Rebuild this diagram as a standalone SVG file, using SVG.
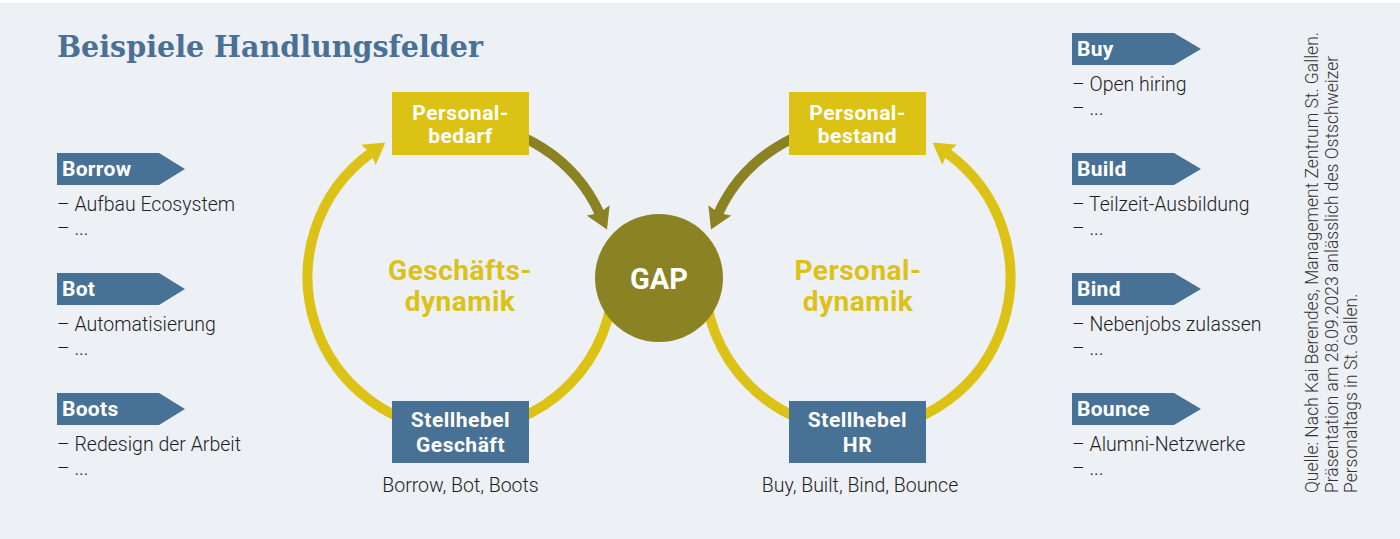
<svg xmlns="http://www.w3.org/2000/svg" width="1400" height="539" viewBox="0 0 1400 539">
  <style>
    .title { font-family: "DejaVu Serif", "Liberation Serif", serif; font-weight: bold; font-size: 30px; fill: #4A7095; }
    .box-y { fill: #DBC215; }
    .box-b { fill: #487196; }
    .boxtxt { font-family: Roboto, "Liberation Sans", sans-serif; font-weight: bold; font-size: 21px; fill: #FFFFFF; text-anchor: middle; letter-spacing: 0.5px; }
    .dyn { font-family: Roboto, "Liberation Sans", sans-serif; font-weight: bold; font-size: 28px; fill: #DBC215; text-anchor: middle; letter-spacing: 0.5px; }
    .gap { font-family: Roboto, "Liberation Sans", sans-serif; font-weight: bold; font-size: 29px; fill: #FFFFFF; text-anchor: middle; }
    .tag { fill: #487196; }
    .tagtxt { font-family: Roboto, "Liberation Sans", sans-serif; font-weight: bold; font-size: 21px; fill: #FFFFFF; letter-spacing: 0.3px; }
    .body { font-family: Roboto, "Liberation Sans", sans-serif; font-weight: 300; font-size: 19.5px; fill: #1E1E1E; }
    .mid { text-anchor: middle; }
    .src { font-family: Roboto, "Liberation Sans", sans-serif; font-weight: 300; font-size: 17.5px; fill: #333333; }
    .arc-y { fill: none; stroke: #DBC215; stroke-width: 10; }
    .arc-o { fill: none; stroke: #8B8323; stroke-width: 10; }
  </style>
  <defs>
    <marker id="ah-y" viewBox="0 0 21 25" refX="3" refY="12.5" markerWidth="21" markerHeight="25" markerUnits="userSpaceOnUse" orient="auto">
      <path d="M0,0 L21,12.5 L0,25 L3,12.5 z" fill="#DBC215"/>
    </marker>
    <marker id="ah-o" viewBox="0 0 21 25" refX="3" refY="12.5" markerWidth="21" markerHeight="25" markerUnits="userSpaceOnUse" orient="auto">
      <path d="M0,0 L21,12.5 L0,25 L3,12.5 z" fill="#8B8323"/>
    </marker>
  </defs>

  <rect x="0" y="0" width="1400" height="539" fill="#FFFFFF"/>
  <rect x="0" y="3" width="1400" height="536" fill="#EDF0F5"/>

  <text class="title" x="57" y="57" textLength="426" lengthAdjust="spacingAndGlyphs">Beispiele Handlungsfelder</text>

  <g id="connectors">
    <path class="arc-y" d="M 613.5 277 A 153 153 0 0 1 460.5 430"/>
    <path class="arc-y" d="M 460.5 430 A 153 153 0 0 1 370.8 153.1" marker-end="url(#ah-y)"/>
    <path class="arc-o" d="M 460.5 124 A 153 153 0 0 1 599.5 213.1" marker-end="url(#ah-o)"/>
    <path class="arc-y" d="M 704.5 277 A 153 153 0 0 0 857.5 430"/>
    <path class="arc-y" d="M 857.5 430 A 153 153 0 0 0 947.2 153.1" marker-end="url(#ah-y)"/>
    <path class="arc-o" d="M 857.5 124 A 153 153 0 0 0 718.5 213.1" marker-end="url(#ah-o)"/>
  </g>

  <g id="gap">
    <circle cx="659" cy="278" r="64" fill="#8B8323"/>
    <text class="gap" x="659" y="289">GAP</text>
  </g>

  <g id="personalbedarf">
    <rect class="box-y" x="392" y="92" width="137" height="63"/>
    <text class="boxtxt" x="460.5" y="120">Personal-</text>
    <text class="boxtxt" x="460.5" y="143">bedarf</text>
  </g>
  <g id="personalbestand">
    <rect class="box-y" x="789" y="92" width="137" height="63"/>
    <text class="boxtxt" x="857.5" y="120">Personal-</text>
    <text class="boxtxt" x="857.5" y="143">bestand</text>
  </g>
  <g id="stellhebel-geschaeft">
    <rect class="box-b" x="392" y="401" width="137" height="62"/>
    <text class="boxtxt" x="460.5" y="427">Stellhebel</text>
    <text class="boxtxt" x="460.5" y="452">Geschäft</text>
    <text class="body mid" x="460.5" y="492">Borrow, Bot, Boots</text>
  </g>
  <g id="stellhebel-hr">
    <rect class="box-b" x="789" y="401" width="137" height="62"/>
    <text class="boxtxt" x="857.5" y="427">Stellhebel</text>
    <text class="boxtxt" x="857.5" y="452">HR</text>
    <text class="body mid" x="860" y="492">Buy, Built, Bind, Bounce</text>
  </g>

  <g id="geschaeftsdynamik">
    <text class="dyn" x="460" y="280">Geschäfts-</text>
    <text class="dyn" x="460" y="311">dynamik</text>
  </g>
  <g id="personaldynamik">
    <text class="dyn" x="858" y="280">Personal-</text>
    <text class="dyn" x="858" y="311">dynamik</text>
  </g>

  <g id="borrow">
    <polygon class="tag" points="57,153 159,153 185,169 159,185 57,185"/>
    <text class="tagtxt" x="62" y="176">Borrow</text>
    <text class="body" x="57" y="211">– Aufbau Ecosystem</text>
    <text class="body" x="57" y="235">– ...</text>
  </g>
  <g id="bot">
    <polygon class="tag" points="57,273 159,273 185,289 159,305 57,305"/>
    <text class="tagtxt" x="62" y="296">Bot</text>
    <text class="body" x="57" y="331">– Automatisierung</text>
    <text class="body" x="57" y="355">– ...</text>
  </g>
  <g id="boots">
    <polygon class="tag" points="57,393 159,393 185,409 159,425 57,425"/>
    <text class="tagtxt" x="62" y="416">Boots</text>
    <text class="body" x="57" y="451">– Redesign der Arbeit</text>
    <text class="body" x="57" y="475">– ...</text>
  </g>

  <g id="buy">
    <polygon class="tag" points="1072,33 1174,33 1201,49 1174,65 1072,65"/>
    <text class="tagtxt" x="1077" y="56">Buy</text>
    <text class="body" x="1072" y="91">– Open hiring</text>
    <text class="body" x="1072" y="115">– ...</text>
  </g>
  <g id="build">
    <polygon class="tag" points="1072,153 1174,153 1201,169 1174,185 1072,185"/>
    <text class="tagtxt" x="1077" y="176">Build</text>
    <text class="body" x="1072" y="211">– Teilzeit-Ausbildung</text>
    <text class="body" x="1072" y="235">– ...</text>
  </g>
  <g id="bind">
    <polygon class="tag" points="1072,273 1174,273 1201,289 1174,305 1072,305"/>
    <text class="tagtxt" x="1077" y="296">Bind</text>
    <text class="body" x="1072" y="331">– Nebenjobs zulassen</text>
    <text class="body" x="1072" y="355">– ...</text>
  </g>
  <g id="bounce">
    <polygon class="tag" points="1072,393 1174,393 1201,409 1174,425 1072,425"/>
    <text class="tagtxt" x="1077" y="416">Bounce</text>
    <text class="body" x="1072" y="451">– Alumni-Netzwerke</text>
    <text class="body" x="1072" y="475">– ...</text>
  </g>

  <g id="source" transform="translate(1318,493) rotate(-90)">
    <text class="src" x="0" y="0">Quelle: Nach Kai Berendes, Management Zentrum St. Gallen.</text>
    <text class="src" x="0" y="19.5">Präsentation am 28.09.2023 anlässlich des Ostschweizer</text>
    <text class="src" x="0" y="39">Personaltags in St. Gallen.</text>
  </g>
</svg>
